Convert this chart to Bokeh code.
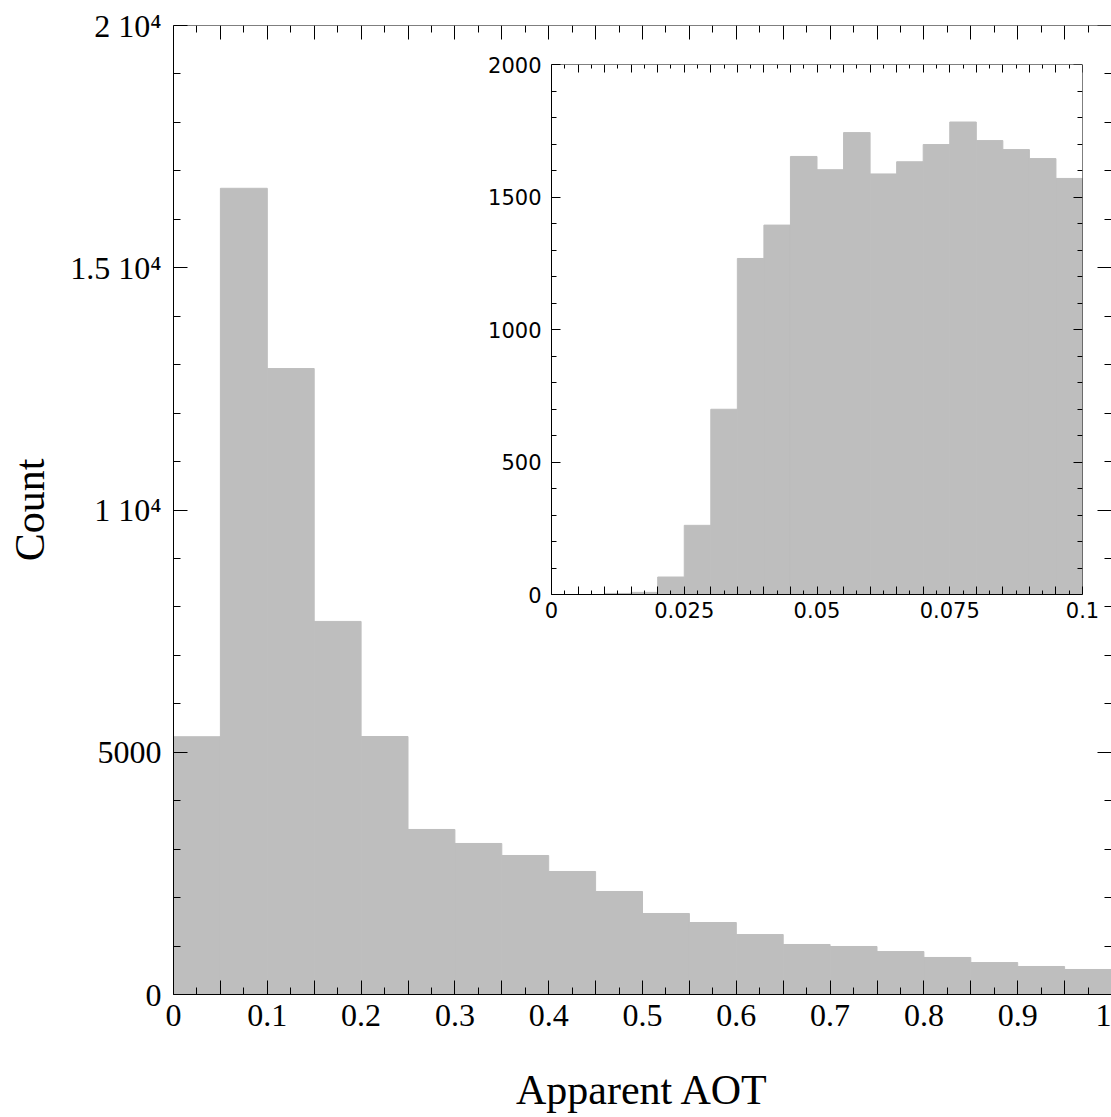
from bokeh.plotting import figure
from bokeh.models import Range1d, FixedTicker, LinearAxis
from bokeh.embed import file_html
from bokeh.resources import INLINE

# ---------------- data ----------------
main_left = [0.0, 0.05, 0.1, 0.15, 0.2, 0.25, 0.3, 0.35, 0.4, 0.45,
             0.5, 0.55, 0.6, 0.65, 0.7, 0.75, 0.8, 0.85, 0.9, 0.95]
main_right = [0.05, 0.1, 0.15, 0.2, 0.25, 0.3, 0.35, 0.4, 0.45, 0.5,
              0.55, 0.6, 0.65, 0.7, 0.75, 0.8, 0.85, 0.9, 0.95, 1.0]
main_counts = [5320, 16640, 12920, 7700, 5325, 3406, 3117, 2869, 2539, 2126,
               1672, 1486, 1238, 1032, 991, 887, 764, 660, 578, 516]

inset_left = [0.0, 0.005, 0.01, 0.015, 0.02, 0.025, 0.03, 0.035, 0.04, 0.045,
              0.05, 0.055, 0.06, 0.065, 0.07, 0.075, 0.08, 0.085, 0.09, 0.095]
inset_right = [0.005, 0.01, 0.015, 0.02, 0.025, 0.03, 0.035, 0.04, 0.045, 0.05,
               0.055, 0.06, 0.065, 0.07, 0.075, 0.08, 0.085, 0.09, 0.095, 0.1]
inset_counts = [0, 0, 4, 8, 66, 261, 699, 1268, 1394, 1653,
                1603, 1743, 1587, 1633, 1698, 1783, 1713, 1679, 1645, 1570]

# main axis ticks
main_x_major = [0.0, 0.05, 0.1, 0.15, 0.2, 0.25, 0.3, 0.35, 0.4, 0.45, 0.5,
                0.55, 0.6, 0.65, 0.7, 0.75, 0.8, 0.85, 0.9, 0.95, 1.0]
main_x_labels = ["0", "", "0.1", "", "0.2", "", "0.3", "", "0.4", "", "0.5",
                 "", "0.6", "", "0.7", "", "0.8", "", "0.9", "", "1"]
main_x_minor = [0.025, 0.075, 0.125, 0.175, 0.225, 0.275, 0.325, 0.375, 0.425, 0.475,
                0.525, 0.575, 0.625, 0.675, 0.725, 0.775, 0.825, 0.875, 0.925, 0.975]
main_y_major = [0, 5000, 10000, 15000, 20000]
main_y_labels = ["0", "5000", "1 10\u2074", "1.5 10\u2074", "2 10\u2074"]
main_y_minor = [1000, 2000, 3000, 4000, 6000, 7000, 8000, 9000, 11000, 12000,
                13000, 14000, 16000, 17000, 18000, 19000]

# inset axis ticks
inset_x_major = [0.0, 0.005, 0.01, 0.015, 0.02, 0.025, 0.03, 0.035, 0.04, 0.045, 0.05,
                 0.055, 0.06, 0.065, 0.07, 0.075, 0.08, 0.085, 0.09, 0.095, 0.1]
inset_x_labels = ["0", "", "", "", "", "0.025", "", "", "", "", "0.05",
                  "", "", "", "", "0.075", "", "", "", "", "0.1"]
inset_x_minor = [0.0025, 0.0075, 0.0125, 0.0175, 0.0225, 0.0275, 0.0325, 0.0375, 0.0425, 0.0475,
                 0.0525, 0.0575, 0.0625, 0.0675, 0.0725, 0.0775, 0.0825, 0.0875, 0.0925, 0.0975]
inset_y_major = [0, 500, 1000, 1500, 2000]
inset_y_labels = ["0", "500", "1000", "1500", "2000"]
inset_y_minor = [100, 200, 300, 400, 600, 700, 800, 900, 1100, 1200, 1300, 1400,
                 1600, 1700, 1800, 1900]

BAR = "#bebebe"
SERIF = "Liberation Serif"
SANS = "DejaVu Sans"


def style_axis(ax, major, minor, overrides, font, size, show_labels, maj_len, min_len):
    ax.ticker = FixedTicker(ticks=major, minor_ticks=minor)
    ax.axis_line_color = "black"
    ax.axis_line_width = 1
    ax.major_tick_line_color = "black"
    ax.minor_tick_line_color = "black"
    ax.major_tick_in = maj_len
    ax.major_tick_out = 0
    ax.minor_tick_in = min_len
    ax.minor_tick_out = 0
    if show_labels:
        ax.major_label_overrides = overrides
        ax.major_label_text_font = font
        ax.major_label_text_font_size = size
        ax.major_label_text_color = "black"
    else:
        ax.major_label_overrides = {k: "" for k in major}
        ax.major_label_text_font_size = "0px"
        ax.major_label_standoff = 0


# ---------------- main figure ----------------
p = figure(width=1111, height=1117,
           x_range=Range1d(0, 1), y_range=Range1d(0, 20000),
           output_backend="svg", toolbar_location=None,
           min_border_left=173, min_border_right=0,
           min_border_top=25, min_border_bottom=123)
p.outline_line_color = None
p.grid.visible = False
p.background_fill_color = "white"
p.border_fill_color = "white"

p.quad(left=main_left, right=main_right, bottom=0, top=main_counts,
       fill_color=BAR, line_color=BAR, line_width=1)

xo = dict(zip(main_x_major, main_x_labels))
yo = dict(zip(main_y_major, main_y_labels))

bx = p.xaxis[0]
style_axis(bx, main_x_major, main_x_minor, xo, SERIF, "32px", True, 14, 7)
bx.major_label_standoff = 10
bx.axis_label = "Apparent AOT"
bx.axis_label_text_font = SERIF
bx.axis_label_text_font_size = "42px"
bx.axis_label_text_font_style = "normal"
bx.axis_label_text_color = "black"
bx.axis_label_standoff = 38

ly = p.yaxis[0]
style_axis(ly, main_y_major, main_y_minor, yo, SERIF, "32px", True, 14, 7)
ly.major_label_standoff = 12
ly.axis_label = "Count"
ly.axis_label_text_font = SERIF
ly.axis_label_text_font_size = "42px"
ly.axis_label_text_font_style = "normal"
ly.axis_label_text_color = "black"
ly.axis_label_standoff = 14

tx = LinearAxis(fixed_location=20000)
style_axis(tx, main_x_major, main_x_minor, xo, SERIF, "32px", False, 14, 7)
p.add_layout(tx, "above")
ry = LinearAxis(fixed_location=1.0)
style_axis(ry, main_y_major, main_y_minor, yo, SERIF, "32px", False, 14, 7)
ry.axis_line_color = None
p.add_layout(ry, "right")

# ---------------- inset figure ----------------
IL, IT, IR, IB = 80, 12, 22, 40
inset = figure(width=IL + 531 + IR, height=IT + 530 + IB,
               x_range=Range1d(0, 0.1), y_range=Range1d(0, 2000),
               output_backend="svg", toolbar_location=None,
               min_border_left=IL, min_border_right=IR,
               min_border_top=IT, min_border_bottom=IB,
               styles={"position": "absolute", "left": f"{551 - IL}px", "top": f"{64 - IT}px"})
inset.outline_line_color = None
inset.grid.visible = False
inset.background_fill_color = "white"
inset.border_fill_alpha = 0

inset.quad(left=inset_left, right=inset_right, bottom=0, top=inset_counts,
           fill_color=BAR, line_color=BAR, line_width=1)

ixo = dict(zip(inset_x_major, inset_x_labels))
iyo = dict(zip(inset_y_major, inset_y_labels))

ibx = inset.xaxis[0]
style_axis(ibx, inset_x_major, inset_x_minor, ixo, SANS, "21px", True, 8, 4)
ibx.major_label_standoff = 7
ily = inset.yaxis[0]
style_axis(ily, inset_y_major, inset_y_minor, iyo, SANS, "21px", True, 9, 5)
ily.major_label_standoff = 10

itx = LinearAxis(fixed_location=2000)
style_axis(itx, inset_x_major, inset_x_minor, ixo, SANS, "21px", False, 8, 4)
inset.add_layout(itx, "above")
iry = LinearAxis(fixed_location=0.1)
style_axis(iry, inset_y_major, inset_y_minor, iyo, SANS, "21px", False, 9, 5)
inset.add_layout(iry, "right")

open("out.html", "w").write(file_html([p, inset], INLINE))
